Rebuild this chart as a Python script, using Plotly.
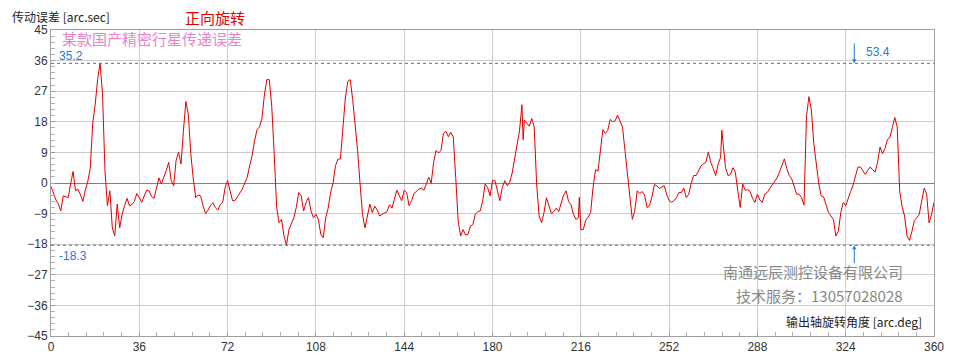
import plotly.graph_objects as go

# ---- data ----
angle_deg = [
    0, 1, 2, 3, 4, 5, 6, 7, 8, 9, 10, 11, 12, 13, 14, 15, 16, 17, 18, 19, 20,
    21, 22, 23, 24, 25, 26, 27, 28, 29, 30, 31, 32, 33, 34, 35, 36, 37, 38, 39, 40,
    41, 42, 43, 44, 45, 46, 47, 48, 49, 50, 51, 52, 53, 54, 55, 56, 57, 58, 59, 60,
    61, 62, 63, 64, 65, 66, 67, 68, 69, 70, 71, 72, 73, 74, 75, 76, 77, 78, 79, 80,
    81, 82, 83, 84, 85, 86, 87, 88, 89, 90, 91, 92, 93, 94, 95, 96, 97, 98, 99, 100,
    101, 102, 103, 104, 105, 106, 107, 108, 109, 110, 111, 112, 113, 114, 115, 116, 117, 118, 119, 120,
    121, 122, 123, 124, 125, 126, 127, 128, 129, 130, 131, 132, 133, 134, 135, 136, 137, 138, 139, 140,
    141, 142, 143, 144, 145, 146, 147, 148, 149, 150, 151, 152, 153, 154, 155, 156, 157, 158, 159, 160,
    161, 162, 163, 164, 165, 166, 167, 168, 169, 170, 171, 172, 173, 174, 175, 176, 177, 178, 179, 180,
    181, 182, 183, 184, 185, 186, 187, 188, 189, 190, 191, 192, 192.5, 193, 194, 195, 196, 197, 198, 199, 200,
    201, 202, 203, 204, 205, 206, 207, 208, 209, 210, 211, 212, 213, 214, 215, 215.4, 216, 217, 218, 219, 220,
    221, 222, 223, 224, 225, 226, 227, 228, 229, 230, 231, 232, 233, 234, 235, 236, 237, 238, 239, 240,
    241, 242, 243, 244, 245, 246, 247, 248, 249, 250, 251, 252, 253, 254, 255, 256, 257, 258, 259, 260,
    261, 262, 263, 264, 265, 266, 267, 268, 269, 270, 271, 272, 273, 273.5, 275, 276, 277, 278, 279, 280,
    281, 282, 283, 284, 285, 286, 287, 288, 289, 290, 291, 292, 293, 294, 295, 296, 297, 298, 299, 300,
    301, 302, 303, 304, 305, 306, 307, 308, 309, 310, 311, 312, 313, 314, 315, 316, 317, 318, 319, 320,
    321, 322, 323, 324, 325, 326, 327, 328, 329, 330, 331, 332, 333, 334, 335, 336, 337, 338, 339, 340,
    341, 342, 343, 344, 345, 346, 347, 348, 349, 350, 351, 352, 353, 354, 355, 356, 357, 358, 359, 360,
]

error_arcsec = [
    -1.0, -3.3, -5.0, -6.2, -8.2, -3.8, -4.1, -4.3, -0.3, 3.4, -2.3, -1.8, -3.5, -5.4, -2.1, 0.5, 4.2, 17.5, 23.0, 30.4, 35.2,
    26.4, 3.7, -6.7, -2.3, -13.2, -15.5, -6.2, -13.2, -9.2, -6.7, -4.5, -6.7, -6.4, -5.4, -3.1, -4.3, -5.7, -3.8, -2.1, -2.3,
    -4.0, -4.5, -1.8, 1.5, -0.3, 1.5, 3.7, 6.1, 0.7, -0.8, 6.6, 9.1, 5.6, 15.5, 24.0, 20.0, 8.6, 1.2, -4.3, -3.5,
    -3.8, -6.7, -9.0, -8.0, -6.6, -5.8, -7.2, -8.0, -6.4, -5.7, -1.3, 0.7, -2.3, -5.2, -5.2, -4.1, -3.3, -1.8, 0.0, 1.7,
    5.1, 8.1, 12.4, 15.7, 16.5, 19.0, 25.9, 30.4, 30.4, 22.5, 8.6, -7.2, -11.7, -10.7, -15.6, -18.3, -13.7, -11.7, -10.2, -7.2,
    -2.8, -3.8, -8.2, -5.7, -4.3, -8.2, -10.2, -9.2, -10.7, -15.1, -16.1, -10.2, -7.4, -2.8, 0.0, 5.1, 7.0, 7.1, 15.5, 25.0,
    29.9, 30.4, 24.5, 17.5, 9.6, -0.3, -9.2, -13.2, -9.2, -6.2, -8.7, -6.8, -8.0, -9.7, -9.2, -8.7, -8.4, -6.4, -7.4, -4.8,
    -2.1, -3.8, -5.2, -2.1, -2.8, -6.7, -5.2, -3.1, -2.3, -1.8, -1.5, -2.1, -0.3, 1.7, -0.1, 6.1, 9.6, 8.8, 9.6, 14.6,
    15.2, 13.6, 14.9, 13.6, 1.7, -11.2, -15.6, -13.7, -15.3, -15.1, -12.7, -12.2, -9.2, -8.4, -8.2, -5.2, -0.3, -1.3, -3.8, 0.7,
    0.7, -2.3, -5.2, -1.3, 0.7, -0.8, 0.2, 2.9, 7.4, 11.1, 15.3, 23.0, 12.7, 18.5, 17.5, 16.7, 19.0, 16.5, -0.3, -9.7, -11.7,
    -8.7, -4.3, -6.4, -9.0, -8.4, -7.4, -8.4, -5.7, -3.5, -2.3, -5.4, -6.4, -9.2, -10.7, -10.2, -4.2, -13.7, -13.7, -11.0, -10.0, -8.7,
    -1.3, 3.9, 3.5, 9.1, 15.7, 14.6, 15.5, 18.7, 18.0, 18.3, 20.0, 18.2, 16.5, 9.6, 2.2, -3.3, -10.7, -8.2, -2.3, -3.1,
    -2.5, -3.5, -7.2, -6.7, -4.1, -0.5, -0.8, -1.6, -1.1, -0.8, -3.3, -5.2, -5.7, -5.2, -4.3, -2.8, -2.8, -1.5, -4.3, -3.3,
    -0.1, 2.2, 2.2, 3.7, 5.0, 5.6, 6.1, 9.1, 6.1, 4.2, 2.2, 5.6, 7.6, 15.5, 4.5, 2.2, 2.5, 4.5, 3.2, -2.3,
    -7.2, -0.3, -2.1, -2.0, -2.5, -4.5, -5.7, -3.3, -5.0, -5.7, -3.3, -2.8, -1.8, -0.5, 0.5, 1.5, 3.2, 4.9, 7.1, 4.2,
    2.2, 1.2, -0.8, -3.3, -3.3, -4.3, -6.5, 19.5, 25.4, 21.5, 11.6, 4.7, -0.1, -3.8, -4.1, -6.4, -8.7, -9.7, -10.7, -15.6,
    -14.2, -8.7, -5.7, -6.7, -4.3, -2.5, -0.6, 1.7, 4.7, 4.7, 3.5, 2.5, 3.7, 4.7, 3.9, 3.2, 6.1, 10.6, 8.6, 10.1,
    12.8, 13.4, 16.3, 19.3, 16.5, -2.3, -7.0, -9.7, -15.6, -16.9, -14.2, -11.0, -10.2, -9.2, -5.2, -1.5, -3.3, -11.7, -9.2, -5.7,
]

x_ticks = [0, 36, 72, 108, 144, 180, 216, 252, 288, 324, 360]
y_ticks = [-45, -36, -27, -18, -9, 0, 9, 18, 27, 36, 45]

upper_limit = 35.2
lower_limit = -18.3
peak_to_peak = 53.4
arrow_angle = 327.5

title_text = "正向旋转"
subtitle_text = "某款国产精密行星传递误差"
y_title = "传动误差 [arc.sec]"
x_title = "输出轴旋转角度 [arc.deg]"
company_line1 = "南通远辰测控设备有限公司"
company_line2 = "技术服务：13057028028"

BLUE = "#1f7ad8"
CJK = "Noto Sans CJK SC"

fig = go.Figure()

fig.add_trace(go.Scatter(
    x=angle_deg, y=error_arcsec, mode="lines",
    line=dict(color="#e00000", width=1), hoverinfo="skip", showlegend=False,
))

for lim in (upper_limit, lower_limit):
    fig.add_trace(go.Scatter(
        x=[0, 360], y=[lim, lim], mode="lines",
        line=dict(color=BLUE, width=1, dash="3px,3px"),
        hoverinfo="skip", showlegend=False,
    ))

annotations = [
    dict(text=y_title, xref="paper", yref="paper", x=-0.0464, y=1.043,
         xanchor="left", yanchor="middle", showarrow=False,
         font=dict(family=CJK, size=12, color="#222222")),
    dict(text=title_text, xref="paper", yref="paper", x=0.1495, y=1.041,
         xanchor="left", yanchor="middle", showarrow=False,
         font=dict(family=CJK, size=15, color="#e00000")),
    dict(text=subtitle_text, xref="paper", yref="paper", x=0.0102, y=0.9706,
         xanchor="left", yanchor="middle", showarrow=False,
         font=dict(family=CJK, size=15, color="#e884cc")),
    dict(text=f"{upper_limit}", xref="x", yref="y", x=2.6, y=37.3,
         xanchor="left", yanchor="middle", showarrow=False,
         font=dict(family="Liberation Sans", size=12, color=BLUE)),
    dict(text=f"{lower_limit}", xref="x", yref="y", x=2.6, y=-21.5,
         xanchor="left", yanchor="middle", showarrow=False,
         font=dict(family="Liberation Sans", size=12, color=BLUE)),
    dict(text=f"{peak_to_peak}", xref="x", yref="y", x=arrow_angle + 3.8, y=38.6,
         xanchor="left", yanchor="middle", showarrow=False,
         font=dict(family="Liberation Sans", size=12, color=BLUE)),
    dict(text="", xref="x", yref="y", x=arrow_angle, y=upper_limit,
         axref="x", ayref="y", ax=arrow_angle, ay=41.5, showarrow=True,
         arrowhead=2, arrowsize=0.8, arrowwidth=1, arrowcolor=BLUE),
    dict(text="", xref="x", yref="y", x=arrow_angle, y=lower_limit,
         axref="x", ayref="y", ax=arrow_angle, ay=-24.0, showarrow=True,
         arrowhead=2, arrowsize=0.8, arrowwidth=1, arrowcolor=BLUE),
    dict(text=company_line1, xref="paper", yref="paper", x=0.967, y=0.211,
         xanchor="right", yanchor="middle", showarrow=False,
         font=dict(family=CJK, size=15, color="#888888")),
    dict(text=company_line2, xref="paper", yref="paper", x=0.967, y=0.133,
         xanchor="right", yanchor="middle", showarrow=False,
         font=dict(family=CJK, size=15, color="#888888")),
    dict(text=x_title, xref="paper", yref="paper", x=0.989, y=0.049,
         xanchor="right", yanchor="middle", showarrow=False,
         font=dict(family=CJK, size=12, color="#222222")),
]

# the page body adds an 8px offset, so the figure is 8px smaller on each axis
fig.update_layout(
    width=946, height=356,
    margin=dict(l=43, r=20, t=22, b=28, autoexpand=False),
    paper_bgcolor="white", plot_bgcolor="white",
    annotations=annotations,
    font=dict(family="Liberation Sans", size=12, color="#333333"),
)

fig.update_xaxes(
    range=[0, 360], tickvals=x_ticks, ticks="inside", ticklen=4,
    tickcolor="#a0a0a0", showgrid=True, gridcolor="#cccccc", gridwidth=1,
    showline=True, linecolor="#a0a0a0", linewidth=1, mirror=True,
    zeroline=False, tickfont=dict(size=12, color="#333333"), automargin=False,
    minor=dict(dtick=7.2, ticks="inside", ticklen=4, tickcolor="#b0b0b0", showgrid=False),
)
fig.update_yaxes(
    range=[-45, 45], tickvals=y_ticks, ticks="inside", ticklen=4,
    tickcolor="#a0a0a0", showgrid=True, gridcolor="#cccccc", gridwidth=1,
    showline=True, linecolor="#a0a0a0", linewidth=1, mirror=True,
    zeroline=True, zerolinecolor="#808080", zerolinewidth=1,
    tickfont=dict(size=12, color="#333333"), automargin=False,
    minor=dict(dtick=1.8, ticks="inside", ticklen=4, tickcolor="#b0b0b0", showgrid=False),
)

fig.write_html("out.html")
